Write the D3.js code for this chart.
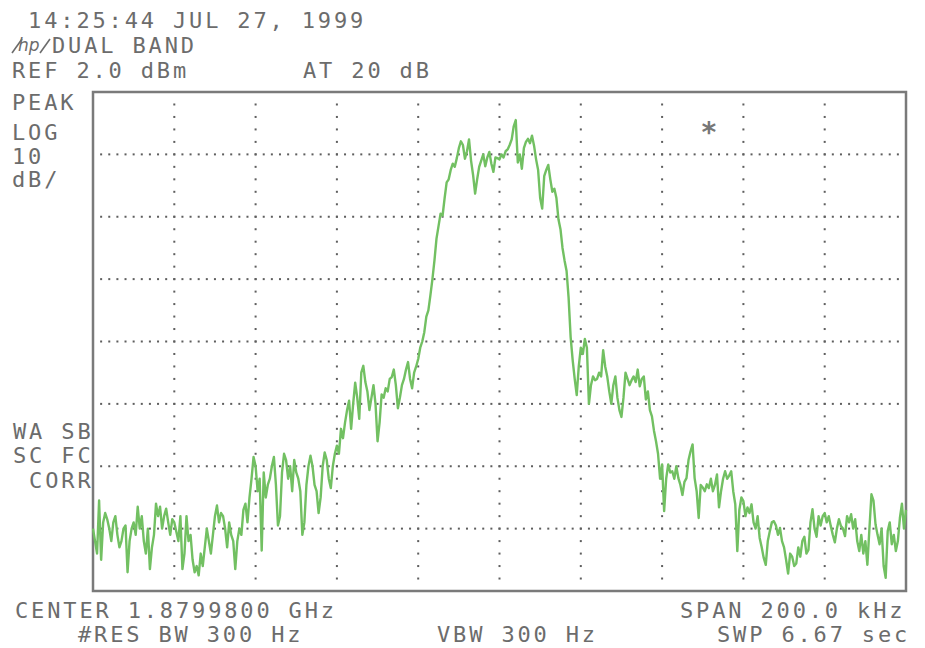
<!DOCTYPE html>
<html>
<head>
<meta charset="utf-8">
<script src="https://cdn.jsdelivr.net/npm/d3@7"></script>
<style>
  html, body { margin: 0; padding: 0; background: #ffffff; }
  svg { display: block; }
  .lbl { font-family: "DejaVu Sans Mono", monospace; font-size: 22px; letter-spacing: 2.85px; fill: #6c6c6c; white-space: pre; }
</style>
</head>
<body>
<script>
// ---- data ----
const spanKHz = [-100, 100];          // frequency offset from center, kHz
const refLevel = 2.0;                 // dBm (top of screen)
const dbPerDiv = 10;
const nDivY = 8, nDivX = 10;
const gridLevels = [-8, -18, -28, -38, -48, -58, -68];
const gridFreqs = [-80, -60, -40, -20, 0, 20, 40, 60, 80];

// trace amplitude (dBm), 401 sweep points, 0.5 kHz apart
const traceDb = [
  -68, -70, -72, -63.5, -73, -67, -65.5, -66.5, -68, -70, -67, -66, -69, -71, -70, -68, -67.5, -75, -70, -68,
  -67, -69, -64.5, -68, -66, -70, -72, -68, -74.5, -71, -69, -64, -66, -64.5, -68, -66, -64.8, -67, -69, -66.5,
  -67, -68.5, -70, -66, -74.5, -72, -66, -70, -69, -73, -75, -74, -75.5, -72, -74, -71, -68, -70, -72, -69,
  -66, -64.3, -67, -65.5, -66, -68, -71, -67, -69, -70, -74.5, -70, -68, -69, -65, -64, -67, -63, -60, -56.5,
  -58, -62, -60, -71.5, -59, -63, -61, -60, -58, -56.5, -61, -67.5, -66, -59, -56, -57, -60, -58, -62, -57,
  -59, -60, -62, -69, -67, -61, -58, -56.3, -58, -61, -62, -65.5, -63, -58, -55.8, -57, -60, -61.5, -58, -56,
  -54.7, -56, -52, -53.5, -51, -49, -47.5, -52, -48, -44.6, -47, -50.4, -43, -41.9, -44.5, -46, -49, -47, -45, -48,
  -54, -51, -46.5, -47, -45.5, -46, -44, -43.7, -42.5, -45, -48.7, -47, -45, -44, -42.5, -41.3, -44, -45.5, -43, -42,
  -40.8, -39, -38, -36.5, -34, -33, -30.6, -28, -25, -21.5, -19.5, -17.5, -17.8, -15, -12.5, -12, -10.5, -9.5, -10, -8.6,
  -7, -5.9, -6.5, -8.7, -7.5, -5.6, -9, -11.3, -14.3, -12, -10, -9, -8, -9.9, -8.5, -7.6, -9.5, -10.8, -8.5, -8.6,
  -8.8, -8, -8.5, -7.5, -7.2, -6.5, -5.6, -3.5, -2.5, -9.3, -8, -10.3, -7, -6, -5.5, -6.2, -5, -6.6, -8.8, -10.5,
  -15, -16.7, -11.5, -10.5, -9.7, -12, -14, -13.5, -15, -18.4, -20, -23, -25, -26.7, -31, -37.3, -41, -44, -46.6, -42,
  -39, -40, -37.6, -39, -48, -45, -43.6, -44.2, -44, -43, -43.6, -39.4, -42, -43.6, -46, -48, -45, -43.6, -47, -49,
  -50.1, -47, -43, -44, -45, -44.2, -43.6, -44.5, -42.5, -45.2, -44, -43.6, -47.3, -46, -49, -50, -52.3, -54, -56, -60,
  -57.7, -65.2, -60, -57.7, -59, -58.8, -60, -58, -59.9, -61, -62.6, -60.5, -59.9, -57, -55.6, -54.5, -59.9, -62, -66.3, -61,
  -61.4, -62, -60.9, -61.5, -60, -62, -61, -59.3, -64.6, -62, -60, -58.8, -60, -59.5, -58.8, -62, -64.1, -71.6, -65, -63,
  -63.6, -66, -64.6, -65.5, -64.1, -67, -68, -66, -69.5, -71, -72.7, -73.8, -70, -68.4, -67, -66.8, -67.5, -69, -67.9, -70,
  -71, -73, -75.2, -72, -72.5, -74, -73.6, -71, -72.5, -70, -69.3, -72, -71.4, -67, -64.9, -68, -69.3, -66, -67.5, -66,
  -65.5, -67, -66, -67.6, -69, -70.2, -68, -66.5, -67.6, -68, -69.2, -66, -67, -65.7, -68, -66.5, -70, -71.6, -69, -72,
  -70, -73.8, -68, -62.5, -63.5, -67.3, -69, -70.5, -68, -74, -75.9, -68.4, -67, -70.5, -69, -71.6, -70, -66.3, -64, -68, -65
];

// marker (asterisk) position
const markerPoint = { f: 51.5, db: 2 - 38 * 80 / 499 };

// screen annotations
const headerLines = [" 14:25:44 JUL 27, 1999", "DUAL BAND", "REF 2.0 dBm", "AT 20 dB"];
const leftLabels = ["PEAK", "LOG", "10", "dB/"];
const corrLabels = ["WA SB", "SC FC", " CORR"];
const footerLines = ["CENTER 1.8799800 GHz", "SPAN 200.0 kHz", "#RES BW 300 Hz", "VBW 300 Hz", "SWP 6.67 sec"];

// ---- drawing ----
const W = 925, H = 648;
const svg = d3.select("body").append("svg").attr("width", W).attr("height", H);

const x = d3.scaleLinear().domain(spanKHz).range([93, 906]);
const y = d3.scaleLinear().domain([refLevel, refLevel - nDivY * dbPerDiv]).range([92, 591]);

const dotColor = "#5e5e5e";
// horizontal dotted graticule lines
const xMinor = d3.range(1, nDivX * 10).map(k => spanKHz[0] + k * (spanKHz[1] - spanKHz[0]) / (nDivX * 10));
const g = svg.append("g");
gridLevels.forEach(lv => {
  g.selectAll(null).data(xMinor).enter().append("rect")
    .attr("x", d => x(d) - 1).attr("y", y(lv) - 1)
    .attr("width", 2).attr("height", 2).attr("fill", dotColor);
});
// vertical dotted graticule lines
const yMinor = d3.range(1, nDivY * 5).map(k => refLevel - k * dbPerDiv / 5);
gridFreqs.forEach(fq => {
  g.selectAll(null).data(yMinor).enter().append("rect")
    .attr("x", x(fq) - 1).attr("y", d => y(d) - 1)
    .attr("width", 2).attr("height", 2).attr("fill", dotColor);
});

// frame
svg.append("rect")
  .attr("x", x(spanKHz[0])).attr("y", y(refLevel))
  .attr("width", x(spanKHz[1]) - x(spanKHz[0]))
  .attr("height", y(refLevel - nDivY * dbPerDiv) - y(refLevel))
  .attr("fill", "none").attr("stroke", "#7a7a7a").attr("stroke-width", 2.5);

// trace
const step = (spanKHz[1] - spanKHz[0]) / (traceDb.length - 1);
const line = d3.line().x((d, i) => x(spanKHz[0] + i * step)).y(d => y(d));
svg.append("path").datum(traceDb)
  .attr("d", line)
  .attr("fill", "none").attr("stroke", "#72c062").attr("stroke-width", 2.4)
  .attr("stroke-linejoin", "round");

// marker asterisk
svg.append("text").attr("class", "lbl")
  .attr("x", x(markerPoint.f)).attr("y", y(markerPoint.db) + 12)
  .attr("text-anchor", "middle").style("font-size", "28px").style("font-weight", "bold")
  .style("letter-spacing", "0px").style("fill", "#777")
  .text("*");

// header
const T = (txt, xx, yy) => svg.append("text").attr("class", "lbl")
  .attr("xml:space", "preserve").attr("x", xx).attr("y", yy).text(txt);
T(headerLines[0], 12, 28);
T(headerLines[1], 52, 53);
T(headerLines[2], 12, 78);
T(headerLines[3], 303, 78);

// hp logo
const logo = svg.append("g").attr("transform", "translate(12,53)");
logo.append("text").attr("x", 6).attr("y", -2)
  .style("font-family", "DejaVu Sans").style("font-style", "italic").style("font-size", "17px")
  .style("fill", "#6c6c6c").text("hp");
logo.append("line").attr("x1", 0).attr("y1", 0).attr("x2", 10).attr("y2", -14)
  .attr("stroke", "#6c6c6c").attr("stroke-width", 1.6);
logo.append("line").attr("x1", 28).attr("y1", 0).attr("x2", 38).attr("y2", -14)
  .attr("stroke", "#6c6c6c").attr("stroke-width", 1.6);

// left labels
[110, 140, 164, 187].forEach((yy, i) => T(leftLabels[i], 12, yy));
[439, 463, 488].forEach((yy, i) => T(corrLabels[i], 13, yy));

// footer
T(footerLines[0], 15, 618);
T(footerLines[1], 680, 618);
T(footerLines[2], 78, 642);
T(footerLines[3], 437, 642);
T(footerLines[4], 717, 642);
</script>
</body>
</html>
